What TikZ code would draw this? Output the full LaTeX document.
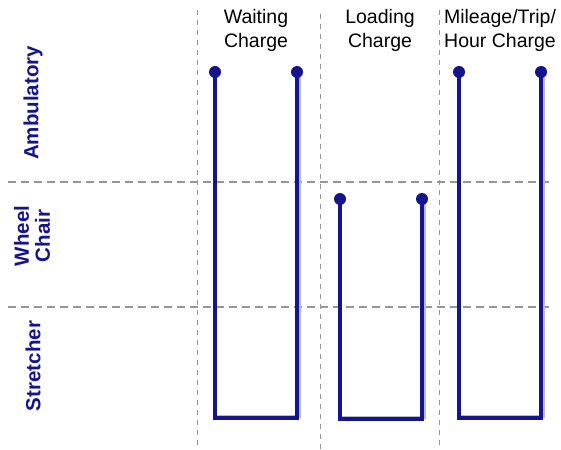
\documentclass[tikz,border=0pt]{standalone}
\usepackage{fontspec}
\setmainfont{Liberation Sans}
\definecolor{navy}{RGB}{20,20,140}
\definecolor{gridgray}{RGB}{150,150,150}
\definecolor{shadowgray}{RGB}{185,185,200}
\begin{document}
\begin{tikzpicture}[x=1pt,y=-1pt,
  hgrid/.style={draw=gridgray,line width=1.4pt,dash pattern=on 8pt off 5pt},
  vgrid/.style={draw=gridgray,line width=0.9pt,dash pattern=on 5pt off 5pt},
  pin/.style={circle,fill=navy,inner sep=0pt,minimum size=12pt},
  wire/.style={draw=navy,line width=3.3pt,line join=miter},
  shade/.style={draw=shadowgray,line width=3pt},
  head/.style={align=center,font=\fontsize{19.5}{24}\selectfont,text=black},
  rowlab/.style={align=center,rotate=90,font=\fontsize{20.5}{21}\selectfont\bfseries,text=navy}]
\useasboundingbox[fill=white] (0,0) rectangle (561,449);
% grid
\coordinate (h1a) at (8,182); \coordinate (h1b) at (553,182);
\coordinate (h2a) at (8,307); \coordinate (h2b) at (553,307);
\coordinate (v1a) at (197,10); \coordinate (v1b) at (197,449);
\coordinate (v2a) at (320,14); \coordinate (v2b) at (320,449);
\coordinate (v3a) at (439,10); \coordinate (v3b) at (439,449);
\draw[hgrid] (h1a) -- (h1b);
\draw[hgrid] (h2a) -- (h2b);
\draw[vgrid] (v1a) -- (v1b);
\draw[vgrid] (v2a) -- (v2b);
\draw[vgrid] (v3a) -- (v3b);
% headers
\node[head] (hw) at (256,30) {Waiting\\Charge};
\node[head] (hl) at (380,30) {Loading\\Charge};
\node[head] (hm) at (500,30) {Mileage/Trip/\\Hour Charge};
% row labels
\node[rowlab] (ra) at (33,103) {Ambulatory};
\node[rowlab] (rw) at (32,236) {Wheel\\Chair};
\node[rowlab] (rs) at (33,366) {Stretcher};
% waiting
\coordinate (w1) at (215,72); \coordinate (w2) at (297,72);
\coordinate (wb1) at (215,418); \coordinate (wb2) at (297,418);
\draw[shade] ([xshift=2.5pt]w2) -- ([xshift=2.5pt,yshift=2pt]wb2) -- ([yshift=2pt]wb1);
\draw[wire] (w1) -- (wb1) -- (wb2) -- (w2);
\node[pin] (wd1) at (w1) {};
\node[pin] (wd2) at (w2) {};
% loading
\coordinate (l1) at (340,199); \coordinate (l2) at (422,199);
\coordinate (lb1) at (340,419); \coordinate (lb2) at (422,419);
\draw[shade] ([xshift=2.5pt]l2) -- ([xshift=2.5pt,yshift=2pt]lb2) -- ([yshift=2pt]lb1);
\draw[wire] (l1) -- (lb1) -- (lb2) -- (l2);
\node[pin] (ld1) at (l1) {};
\node[pin] (ld2) at (l2) {};
% mileage
\coordinate (m1) at (459,72); \coordinate (m2) at (541,72);
\coordinate (mb1) at (459,418); \coordinate (mb2) at (541,418);
\draw[shade] ([xshift=2.5pt]m2) -- ([xshift=2.5pt,yshift=2pt]mb2) -- ([yshift=2pt]mb1);
\draw[wire] (m1) -- (mb1) -- (mb2) -- (m2);
\node[pin] (md1) at (m1) {};
\node[pin] (md2) at (m2) {};
\end{tikzpicture}
\end{document}
